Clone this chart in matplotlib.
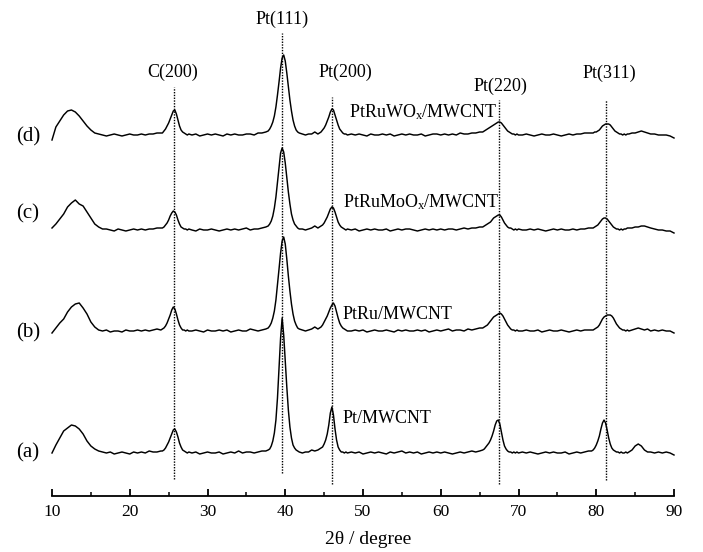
import matplotlib
matplotlib.use("Agg")
import matplotlib.pyplot as plt

plt.rcParams["font.family"] = ["Liberation Serif", "DejaVu Serif"]
plt.rcParams["mathtext.default"] = "regular"

# 2-theta sampling positions (degrees), shared by all four patterns
two_theta = [
    10.0, 10.5, 11.0, 11.5, 12.0, 12.5, 13.0, 13.5, 14.0, 14.5, 15.0, 15.5, 16.0, 16.5,
    17.0, 17.5, 18.0, 18.5, 19.0, 19.5, 20.0, 20.5, 21.0, 21.5, 22.0, 22.5, 23.0, 23.5,
    24.0, 24.2, 24.4, 24.6, 24.8, 25.0, 25.2, 25.4, 25.6, 25.8, 26.0, 26.2, 26.4, 26.6,
    26.8, 27.0, 27.2, 27.4, 27.6,
    28.0, 28.5, 29.0, 29.5, 30.0, 30.5, 31.0, 31.5, 32.0, 32.5, 33.0, 33.5, 34.0, 34.5,
    35.0, 35.5, 36.0, 36.5, 37.0, 37.5,
    37.8, 38.0, 38.2, 38.4, 38.6, 38.8, 39.0, 39.2, 39.4, 39.6, 39.8, 40.0, 40.2, 40.4,
    40.6, 40.8, 41.0, 41.2, 41.4, 41.6, 41.8,
    42.2, 42.6, 43.0, 43.4, 43.8, 44.2, 44.6,
    44.8, 45.0, 45.2, 45.4, 45.6, 45.8, 46.0, 46.2, 46.4, 46.6, 46.8, 47.0, 47.2, 47.4,
    47.6, 47.8, 48.0,
    48.5, 49.0, 49.5, 50.0, 50.5, 51.0, 51.5, 52.0, 52.5, 53.0, 53.5, 54.0, 54.5, 55.0,
    55.5, 56.0, 56.5, 57.0, 57.5, 58.0, 58.5, 59.0, 59.5, 60.0, 60.5, 61.0, 61.5, 62.0,
    62.5, 63.0, 63.5, 64.0, 64.5, 65.0,
    65.4, 65.6, 65.8, 66.0, 66.2, 66.4, 66.6, 66.8, 67.0, 67.2, 67.4, 67.6, 67.8, 68.0,
    68.2, 68.4, 68.6, 68.8, 69.0, 69.2, 69.4, 69.6, 69.8, 70.0,
    70.5, 71.0, 71.5, 72.0, 72.5, 73.0, 73.5, 74.0, 74.5, 75.0, 75.5, 76.0, 76.5, 77.0,
    77.5, 78.0, 78.5, 79.0,
    79.4, 79.6, 79.8, 80.0, 80.2, 80.4, 80.6, 80.8, 81.0, 81.2, 81.4, 81.6, 81.8, 82.0,
    82.2, 82.4, 82.6, 82.8, 83.0, 83.2, 83.4, 83.6, 83.8, 84.0, 84.2,
    84.6, 85.0, 85.4, 85.8, 86.2, 86.6, 87.0, 87.5, 88.0, 88.5, 89.0, 89.5, 90.0,
]

# (a) Pt/MWCNT intensity (a.u.)
pt_mwcnt = [
    0, 8, 15, 22, 25, 28, 27, 24, 19, 12, 7, 4, 2, 1,
    0, 1, -1, 0, 1, 0, -1, 1, 0, 1, 0, 2, 1, 1,
    2, 2, 3, 5, 8, 11, 15, 19, 23, 24, 21, 16, 10, 6,
    3, 2, 1, 0, 1,
    0, 1, -1, 0, 1, 0, 0, 1, -1, 0, 1, 0, 2, 0,
    1, 1, 0, 1, 2, 2,
    3, 4, 7, 12, 20, 33, 55, 84, 115, 135, 118, 92, 66, 43,
    26, 15, 8, 5, 3, 2, 1,
    0, 1, 1, 3, 2, 3, 5,
    6, 9, 13, 19, 28, 40, 46, 38, 24, 13, 6, 3, 1, 1,
    0, 1, 0,
    1, 0, 1, -1, 0, 1, 0, 1, 0, -1, 1, 0, 1, 2,
    0, 1, 0, 1, -1, 0, 1, 0, 1, 0, 1, 0, -1, 0,
    1, 0, 1, 2, 1, 2,
    3, 4, 6, 8, 10, 13, 17, 22, 28, 32, 33, 29, 21, 13,
    7, 4, 2, 1, 1, 0, 1, 0, 1, 0,
    1, 0, 1, 0, -1, 0, 1, 0, 1, 0, 0, 1, -1, 0,
    1, 0, 1, 2,
    2, 3, 5, 8, 12, 17, 24, 30, 33, 30, 23, 15, 9, 5,
    3, 2, 1, 1, 0, 1, 0, 0, 1, 0, 1,
    3, 7, 9, 7, 3, 1, 1, 0, 1, 0, 1, 0, -2,
]

# (b) PtRu/MWCNT intensity (a.u.)
ptru_mwcnt = [
    -2, 3, 8, 12, 19, 24, 27, 28, 23, 17, 9, 4, 1, 0,
    1, -1, 0, 0, -1, 1, 0, 0, 1, 0, 1, 0, 1, 2,
    1, 2, 3, 5, 8, 12, 16, 21, 24, 22, 17, 11, 6, 3,
    1, 1, 0, 1, 0,
    0, 1, 0, -1, 1, 0, 0, 1, 0, 1, -1, 0, 1, 0,
    0, 2, 1, 0, 1, 2,
    3, 5, 8, 13, 20, 31, 46, 62, 78, 90, 94, 87, 72, 55,
    40, 27, 17, 10, 6, 3, 2,
    1, 0, 1, 2, 4, 2, 4,
    6, 9, 12, 15, 19, 23, 26, 28, 25, 19, 13, 8, 5, 3,
    2, 1, 0,
    0, 1, 0, 1, -1, 0, 1, 0, 0, 1, 0, -1, 1, 0,
    1, 0, 0, 1, 0, 1, -1, 0, 1, 0, 1, 2, 0, 1,
    1, 0, 2, 1, 2, 3,
    3, 4, 5, 6, 8, 10, 12, 14, 15, 16, 17, 18, 17, 15,
    12, 9, 6, 4, 2, 1, 1, 0, 1, 0,
    0, 1, 0, 0, 1, -1, 0, 1, 0, 0, 1, 0, -1, 0,
    1, 0, 1, 1,
    1, 1, 2, 3, 4, 6, 9, 12, 14, 15, 16, 16, 16, 15,
    13, 10, 7, 5, 3, 2, 1, 1, 0, 1, 0,
    1, 2, 3, 2, 1, 2, 0, 1, 0, 1, 0, 0, -2,
]

# (c) PtRuMoOx/MWCNT intensity (a.u.)
ptrumoox_mwcnt = [
    2, 6, 11, 16, 23, 27, 30, 26, 24, 18, 12, 6, 3, 1,
    1, 0, -1, 1, 0, -1, 0, 1, 0, 1, 0, 1, 1, 2,
    2, 2, 3, 5, 7, 10, 14, 17, 19, 18, 15, 10, 6, 3,
    2, 1, 1, 0, 1,
    0, -1, 1, 0, 0, 1, 0, -1, 0, 1, 0, 1, 0, 1,
    2, 0, 1, 1, 2, 3,
    4, 6, 9, 14, 22, 33, 48, 64, 77, 82, 78, 67, 52, 38,
    26, 16, 10, 6, 4, 2, 1,
    1, 0, 1, 2, 4, 2, 4,
    5, 7, 10, 13, 17, 21, 23, 22, 18, 13, 8, 5, 3, 2,
    1, 0, 1,
    0, 1, -1, 0, 1, 0, 1, 0, 0, 1, -1, 0, 1, 0,
    1, 1, 0, -1, 0, 1, 0, 1, 0, 1, 0, 1, 1, 0,
    1, 2, 1, 2, 2, 3,
    3, 4, 5, 6, 7, 8, 10, 12, 13, 14, 15, 15, 13, 10,
    7, 5, 3, 2, 2, 1, 0, 1, 0, 1,
    0, 0, 1, 0, 1, 0, -1, 0, 1, 0, 1, 0, 0, 1,
    0, 1, 1, 2,
    2, 2, 3, 4, 5, 7, 9, 11, 12, 12, 11, 9, 7, 5,
    3, 2, 1, 1, 0, 1, 0, 1, 1, 2, 2,
    2, 3, 3, 4, 4, 3, 2, 1, 0, 0, -1, -1, -3,
]

# (d) PtRuWOx/MWCNT intensity (a.u.)
ptruwox_mwcnt = [
    -5, 8, 14, 20, 24, 25, 23, 19, 14, 9, 5, 2, 1, 0,
    -1, 0, 1, 0, -1, 0, 1, 0, 0, 1, 0, 1, 1, 2,
    2, 2, 4, 6, 9, 12, 16, 20, 24, 25, 21, 15, 9, 5,
    3, 2, 1, 0, 1,
    0, 1, -1, 0, 1, 0, 1, 0, -1, 1, 0, 1, 0, 0,
    1, 1, 0, 2, 2, 3,
    4, 6, 9, 13, 19, 28, 40, 53, 67, 77, 80, 74, 62, 48,
    35, 24, 15, 9, 5, 3, 2,
    1, 0, 1, 1, 3, 1, 3,
    5, 7, 10, 14, 18, 23, 26, 25, 20, 15, 10, 6, 4, 2,
    1, 1, 0,
    1, 0, 1, 0, -1, 1, 0, 0, 1, 0, 1, -1, 0, 1,
    0, 1, 0, 0, 1, -1, 0, 1, 1, 0, 1, 0, 1, 0,
    2, 1, 1, 2, 2, 3,
    3, 4, 5, 6, 7, 8, 9, 10, 11, 12, 13, 13, 12, 10,
    8, 6, 4, 3, 2, 1, 1, 0, 1, 0,
    0, 1, 0, -1, 0, 1, 0, 0, 1, 0, -1, 0, 1, 0,
    1, 1, 2, 2,
    2, 2, 3, 3, 4, 5, 7, 9, 10, 11, 11, 11, 10, 8,
    6, 4, 3, 2, 1, 1, 0, 1, 0, 1, 1,
    2, 2, 3, 4, 3, 2, 1, 1, 0, 0, 0, -1, -3,
]

patterns = [pt_mwcnt, ptru_mwcnt, ptrumoox_mwcnt, ptruwox_mwcnt]
pattern_tags = ["(a)", "(b)", "(c)", "(d)"]
sample_names = ["Pt/MWCNT", "PtRu/MWCNT",
                "PtRuMoO$_{x}$/MWCNT", "PtRuWO$_{x}$/MWCNT"]

# reflection markers
reflections = ["C(200)", "Pt(111)", "Pt(200)", "Pt(220)", "Pt(311)"]
reflection_pos = [25.7, 39.6, 46.05, 67.5, 81.3]

# layout: vertical stacking of the patterns and placement of annotations
offsets = [43, 165, 266, 361]
tag_y = [43, 163, 282, 359]
name_xy = [(47.4, 73), (47.4, 177), (47.4, 289), (48.2, 379)]
ref_label_xy = [(25.56, 424), (39.58, 477), (47.7, 424), (67.66, 410), (81.64, 423)]
ref_line_span = [(17, 409), (23, 463), (12, 399), (12, 396), (16, 396)]

fig = plt.figure(figsize=(7.03, 5.52), dpi=100)
ax = fig.add_axes([52 / 703, 56 / 552, 622 / 703, 486 / 552])

for counts, base in zip(patterns, offsets):
    ax.plot(two_theta, [base + c for c in counts], color="black", lw=1.05,
            solid_joinstyle="round", clip_on=False)

for pos, (y0, y1) in zip(reflection_pos, ref_line_span):
    ax.vlines(pos, y0, y1, colors="black", linestyles=(0, (1.0, 1.0)), lw=1.0)

for name, (x, y) in zip(reflections, ref_label_xy):
    ax.text(x, y, name, ha="center", va="center", fontsize=13)

for name, (x, y) in zip(sample_names, name_xy):
    ax.text(x, y, name, ha="left", va="baseline", fontsize=13)

for tag, y in zip(pattern_tags, tag_y):
    ax.text(6.9, y, tag, ha="center", va="center", fontsize=15, clip_on=False)

ax.set_xlim(10, 90)
ax.set_ylim(0, 486)
for side in ("left", "right", "top"):
    ax.spines[side].set_visible(False)
ax.spines["bottom"].set_linewidth(1.3)
ax.set_yticks([])
ax.set_xticks(range(10, 91, 10))
ax.set_xticks(range(15, 90, 10), minor=True)
ax.tick_params(axis="x", which="major", direction="in", length=5, width=1.3,
               labelsize=12.5, pad=6)
ax.tick_params(axis="x", which="minor", direction="in", length=3, width=1.1)
ax.patch.set_visible(False)

fig.text(368 / 703, 1 - 540 / 552, "2θ / degree", ha="center", va="center",
         fontsize=14)

fig.savefig("out.png", dpi=100)
